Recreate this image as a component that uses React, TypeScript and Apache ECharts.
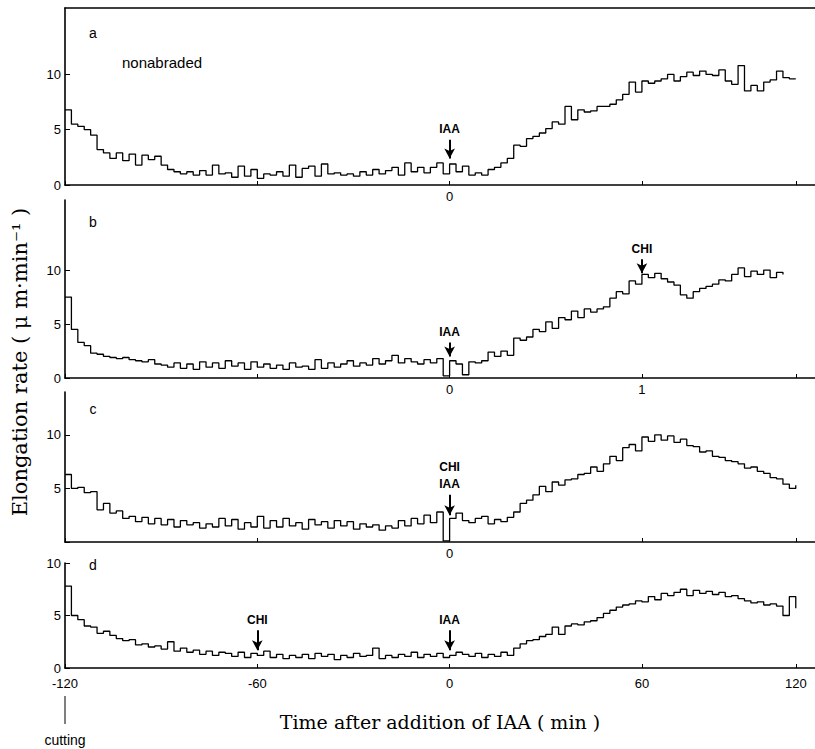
import React, { useEffect, useRef } from "react";
import * as echarts from "echarts";

// sampling of the recorded traces (minutes after IAA, picture scale)
const T0 = -120;
const STEP = 2;

const panelA = [
  6.8, 5.5, 5.3, 5.0, 4.5, 3.2, 2.9, 2.4, 2.9, 2.2, 2.8, 1.8, 2.7, 2.3, 2.6, 1.8, 1.4, 1.2, 1.0, 1.2,
  0.9, 1.3, 0.9, 1.8, 1.0, 1.1, 0.7, 1.7, 0.8, 1.4, 0.6, 1.0, 0.9, 1.2, 0.8, 1.8, 0.7, 1.5, 1.7, 0.8,
  1.9, 1.0, 1.1, 0.9, 1.0, 0.8, 1.2, 0.9, 1.4, 1.0, 1.3, 1.6, 0.9, 2.0, 1.2, 1.6, 1.1, 1.6, 2.0, 1.0,
  1.9, 1.2, 1.7, 0.9, 1.1, 0.9, 1.4, 1.6, 2.0, 2.4, 3.6, 3.5, 4.2, 4.4, 4.7, 5.1, 5.7, 5.5, 7.1, 5.9,
  6.8, 6.6, 6.7, 7.1, 7.1, 7.3, 7.7, 8.2, 9.3, 8.4, 9.4, 9.2, 9.4, 9.6, 10.0, 9.4, 9.8, 10.2, 9.9, 10.3,
  10.0, 9.9, 10.4, 9.4, 9.1, 10.8, 8.5, 9.0, 8.5, 9.3, 9.5, 10.3, 9.7, 9.6, 9.6,
];

const panelB = [
  7.5, 4.5, 3.3, 3.0, 2.3, 2.2, 2.0, 1.9, 1.8, 1.9, 1.7, 1.6, 1.5, 1.7, 1.3, 1.2, 1.0, 1.4, 0.9, 1.3,
  0.8, 1.5, 1.0, 1.4, 0.9, 1.6, 1.1, 1.4, 0.8, 1.5, 1.0, 1.3, 0.9, 1.2, 0.8, 1.4, 1.0, 1.1, 0.8, 1.7,
  0.9, 1.4, 1.0, 1.3, 1.6, 1.1, 1.4, 1.2, 1.8, 1.3, 1.6, 2.1, 1.4, 1.8, 1.5, 1.3, 1.7, 1.4, 1.8, 0.2,
  1.6, 1.3, 0.3, 1.5, 1.4, 1.6, 2.4, 2.0, 2.5, 2.1, 3.7, 3.5, 3.8, 4.5, 4.3, 5.2, 4.6, 5.6, 5.4, 6.2,
  5.6, 6.4, 6.1, 6.4, 6.6, 7.4, 8.0, 7.8, 9.0, 8.7, 9.6, 9.3, 9.7, 9.2, 8.9, 8.6, 7.7, 7.4, 8.0, 8.3,
  8.5, 8.7, 9.1, 9.0, 9.6, 10.2, 9.4, 9.9, 9.6, 10.0, 9.3, 9.8, 9.6,
];

const panelC = [
  6.3, 5.0, 5.1, 4.6, 4.7, 3.0, 3.6, 2.7, 2.9, 2.2, 2.4, 1.9, 2.3, 1.7, 2.2, 1.6, 2.1, 1.4, 2.0, 1.6,
  1.8, 1.3, 1.7, 1.4, 2.2, 1.5, 2.1, 1.2, 1.8, 1.4, 2.4, 1.3, 2.0, 1.4, 2.2, 1.5, 1.8, 1.2, 2.1, 1.6,
  1.9, 1.3, 2.0, 1.5, 1.9, 1.2, 1.7, 1.4, 1.6, 1.1, 1.5, 1.3, 2.0, 1.5, 2.2, 1.7, 2.5, 1.8, 2.8, 0.1,
  2.2, 2.7, 2.0, 1.8, 2.2, 2.4, 1.7, 2.1, 1.9, 2.3, 2.8, 3.6, 3.9, 4.4, 5.2, 4.7, 5.6, 5.3, 5.8, 5.9,
  6.3, 6.4, 7.0, 6.6, 7.3, 8.0, 7.6, 8.8, 9.1, 8.5, 9.8, 9.4, 10.0, 9.5, 9.9, 9.3, 9.6, 9.0, 8.9, 8.4,
  8.5, 8.0, 7.9, 7.6, 7.5, 7.3, 6.9, 7.0, 6.6, 6.4, 6.0, 5.9, 5.4, 5.0, 5.3,
];

const panelD = [
  7.8, 5.0, 4.6, 4.0, 3.9, 3.3, 3.5, 3.1, 2.8, 2.6, 2.7, 2.2, 2.3, 2.0, 2.1, 1.8, 2.5, 1.6, 1.9, 1.5,
  1.7, 1.3, 1.6, 1.2, 1.5, 1.4, 1.1, 1.5, 1.0, 1.4, 1.2, 1.6, 1.0, 1.3, 0.9, 1.2, 1.0, 1.3, 0.9, 1.4,
  1.1, 1.3, 0.8, 1.2, 1.0, 1.4, 1.1, 1.2, 1.9, 0.9, 1.2, 1.0, 1.3, 1.1, 1.5, 1.0, 1.3, 1.1, 1.4, 1.0,
  1.2, 1.5, 1.3, 1.1, 1.4, 1.0, 1.3, 1.1, 1.5, 1.2, 1.9, 2.3, 2.6, 2.7, 3.0, 3.2, 3.9, 3.2, 4.0, 4.2,
  4.1, 4.4, 4.5, 4.8, 5.2, 5.5, 5.8, 6.0, 6.1, 6.4, 6.3, 6.8, 6.5, 7.1, 6.9, 7.2, 7.5, 6.9, 7.4, 7.1,
  7.3, 7.0, 7.2, 6.8, 6.9, 6.6, 6.4, 6.2, 6.3, 6.0, 6.1, 5.9, 5.0, 6.8, 5.7,
];

// axis ticks
const xTickValues = [-120, -60, 0, 60, 108];
const xTickTextFull = ["-120", "-60", "0", "60", "120"];
const xLabelsA = [0];
const xLabelsB = [0, 60];
const xLabelTextB = ["0", "1"];
const xLabelsC = [0];
const yTickValues = [0, 5, 10];
const yMax = [16, 16.5, 14, 10];

// treatment arrows: [label, time, arrow start value, arrow end value]
const arrowsA = [["IAA", 0, 4.1, 2.4]];
const arrowsB = [["IAA", 0, 3.3, 2.0], ["CHI", 60, 11.0, 9.7]];
const arrowsC = [["CHI\nIAA", 0, 4.4, 2.5]];
const arrowsD = [["CHI", -60, 3.6, 1.7], ["IAA", 0, 3.6, 1.7]];

const panelLetters = ["a", "b", "c", "d"];

const SANS = '"Liberation Sans", Arial, sans-serif';
const SERIF = '"DejaVu Serif", "Liberation Serif", serif';

const grids = [
  { left: 65, top: 8, width: 750, height: 177 },
  { left: 65, top: 200, width: 750, height: 178 },
  { left: 65, top: 392, width: 750, height: 150 },
  { left: 65, top: 563, width: 750, height: 105 },
];

function toPairs(vals: number[]) {
  return vals.map((v, i) => [T0 + i * STEP, v]);
}

function makeX(gridIndex: number, labelValues: number[], labelText: (v: number) => string, margin: number) {
  return {
    type: "value",
    gridIndex,
    min: -120,
    max: 114,
    axisLine: { show: true, onZero: false, lineStyle: { color: "#000", width: 1.6 } },
    axisTick: { show: true, inside: true, length: 4, customValues: xTickValues, lineStyle: { color: "#000", width: 1 } },
    axisLabel: {
      show: true,
      customValues: labelValues,
      formatter: (v: number) => labelText(v),
      color: "#000",
      fontFamily: SANS,
      fontSize: 13,
      margin,
    },
    splitLine: { show: false },
  };
}

function makeY(gridIndex: number, max: number, labelValues: number[]) {
  return {
    type: "value",
    gridIndex,
    min: 0,
    max,
    axisLine: { show: true, onZero: false, lineStyle: { color: "#000", width: 1.6 } },
    axisTick: { show: true, inside: true, length: 5, customValues: yTickValues, lineStyle: { color: "#000", width: 1 } },
    axisLabel: {
      show: true,
      customValues: labelValues,
      color: "#000",
      fontFamily: SANS,
      fontSize: 13,
      margin: 4,
    },
    splitLine: { show: false },
  };
}

function makeArrows(list: any[]) {
  return {
    silent: true,
    symbol: ["none", "arrow"],
    symbolSize: [8, 10],
    lineStyle: { color: "#000", width: 2, type: "solid" },
    label: {
      show: true,
      position: "start",
      formatter: "{b}",
      color: "#000",
      fontFamily: SANS,
      fontSize: 12,
      fontWeight: "bold",
      lineHeight: 17,
      distance: 2,
    },
    data: list.map((a) => [
      { name: a[0], coord: [a[1], a[2]] },
      { coord: [a[1], a[3]] },
    ]),
  };
}

function makeSeries(idx: number, vals: number[], arrows: any[]) {
  return {
    type: "line",
    xAxisIndex: idx,
    yAxisIndex: idx,
    step: "end",
    symbol: "none",
    data: toPairs(vals),
    lineStyle: { color: "#000", width: 1.3 },
    markLine: makeArrows(arrows),
  };
}

export default function App() {
  const ref = useRef<HTMLDivElement>(null);
  useEffect(() => {
    if (!ref.current) return;
    const chart = echarts.init(ref.current, undefined, { renderer: "svg" });
    const fullText = (v: number) => {
      const i = xTickValues.indexOf(v);
      return i >= 0 ? xTickTextFull[i] : "";
    };
    const bText = (v: number) => {
      const i = xLabelsB.indexOf(v);
      return i >= 0 ? xLabelTextB[i] : "";
    };
    const letterY = [33, 222, 409, 565];
    const option: any = {
      animation: false,
      backgroundColor: "#fff",
      grid: grids,
      xAxis: [
        makeX(0, xLabelsA, (v) => String(v), 5),
        makeX(1, xLabelsB, bText, 5),
        makeX(2, xLabelsC, (v) => String(v), 5),
        makeX(3, xTickValues, fullText, 9),
        {
          type: "value",
          gridIndex: 0,
          position: "top",
          min: -120,
          max: 114,
          axisLine: { show: true, onZero: false, lineStyle: { color: "#000", width: 1.6 } },
          axisTick: { show: false },
          axisLabel: { show: false },
          splitLine: { show: false },
        },
      ],
      yAxis: [
        makeY(0, yMax[0], [0, 5, 10]),
        makeY(1, yMax[1], [0, 5, 10]),
        makeY(2, yMax[2], [5, 10]),
        makeY(3, yMax[3], [0, 5, 10]),
      ],
      series: [
        makeSeries(0, panelA, arrowsA),
        makeSeries(1, panelB, arrowsB),
        makeSeries(2, panelC, arrowsC),
        makeSeries(3, panelD, arrowsD),
      ],
      graphic: [
        ...panelLetters.map((l, i) => ({
          type: "text",
          x: 93,
          y: letterY[i],
          style: { text: l, font: `14px ${SANS}`, fill: "#000", textAlign: "center", textVerticalAlign: "middle" },
        })),
        {
          type: "text",
          x: 122,
          y: 62,
          style: { text: "nonabraded", font: `15px ${SANS}`, fill: "#000", textAlign: "left", textVerticalAlign: "middle" },
        },
        {
          type: "text",
          x: 20,
          y: 362,
          rotation: Math.PI / 2,
          style: {
            text: "Elongation rate ( μ m·min⁻¹ )",
            font: `21px ${SERIF}`,
            fill: "#000",
            textAlign: "center",
            textVerticalAlign: "middle",
          },
        },
        {
          type: "text",
          x: 440,
          y: 722,
          style: {
            text: "Time after addition of IAA ( min )",
            font: `19px ${SERIF}`,
            fill: "#000",
            textAlign: "center",
            textVerticalAlign: "middle",
          },
        },
        {
          type: "line",
          shape: { x1: 65, y1: 696, x2: 65, y2: 724 },
          style: { stroke: "#000", lineWidth: 1 },
        },
        {
          type: "text",
          x: 65,
          y: 740,
          style: { text: "cutting", font: `14px ${SANS}`, fill: "#000", textAlign: "center", textVerticalAlign: "middle" },
        },
      ],
    };
    chart.setOption(option);
    return () => chart.dispose();
  }, []);
  return (
    <div
      ref={ref}
      style={{ position: "absolute", left: 0, top: 0, width: 815, height: 749 }}
    />
  );
}
